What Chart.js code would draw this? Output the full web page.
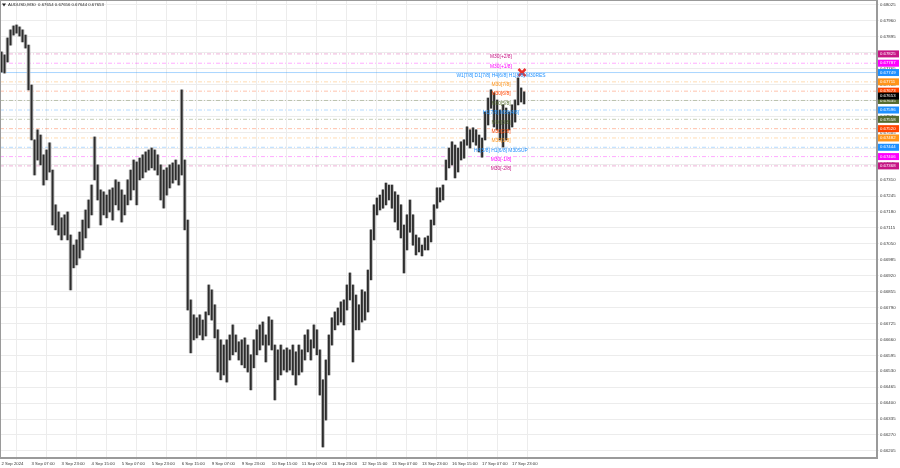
<!DOCTYPE html>
<html>
<head>
<meta charset="utf-8">
<title>AUDUSD,M30</title>
<script src="https://cdn.jsdelivr.net/npm/chart.js@4.4.1/dist/chart.umd.min.js"></script>
<style>
  html, body { margin: 0; padding: 0; background: #fff; }
  #wrap { width: 900px; height: 468px; }
</style>
</head>
<body>
<div id="wrap"><canvas id="chart" width="900" height="468"></canvas></div>
<script>
// AUDUSD M30, 2 Sep - 17 Sep 2024 (one bar here ~ 3 M30 bars of the terminal)
var symbolTitle = 'AUDUSD,M30  0.67654 0.67656 0.67644 0.67653';
var lastPrice = 0.67653;

var barHighs = [
  0.67833, 0.67821, 0.67890, 0.67923, 0.67939, 0.67943, 0.67935, 0.67923, 0.67902, 0.67861,
  0.67698, 0.67474, 0.67515, 0.67494, 0.67413, 0.67433, 0.67462, 0.67351, 0.67209, 0.67180,
  0.67156, 0.67168, 0.67180, 0.67086, 0.67045, 0.67066, 0.67098, 0.67147, 0.67188, 0.67229,
  0.67290, 0.67486, 0.67372, 0.67270, 0.67262, 0.67249, 0.67270, 0.67278, 0.67311, 0.67302,
  0.67270, 0.67249, 0.67311, 0.67351, 0.67392, 0.67384, 0.67400, 0.67413, 0.67425, 0.67433,
  0.67441, 0.67433, 0.67413, 0.67372, 0.67351, 0.67360, 0.67372, 0.67380, 0.67392, 0.67372,
  0.67678, 0.67392, 0.67147, 0.66821, 0.66760, 0.66748, 0.66760, 0.66739, 0.66772, 0.66882,
  0.66862, 0.66801, 0.66699, 0.66658, 0.66637, 0.66658, 0.66678, 0.66719, 0.66678, 0.66650,
  0.66658, 0.66666, 0.66637, 0.66597, 0.66658, 0.66699, 0.66719, 0.66731, 0.66678, 0.66752,
  0.66739, 0.66637, 0.66617, 0.66637, 0.66617, 0.66625, 0.66617, 0.66637, 0.66609, 0.66637,
  0.66617, 0.66678, 0.66699, 0.66658, 0.66719, 0.66699, 0.66617, 0.66495, 0.66576, 0.66678,
  0.66748, 0.66772, 0.66788, 0.66813, 0.66821, 0.66882, 0.66931, 0.66882, 0.66841, 0.66801,
  0.66862, 0.66854, 0.66943, 0.67107, 0.67209, 0.67237, 0.67249, 0.67270, 0.67298, 0.67290,
  0.67290, 0.67262, 0.67249, 0.67209, 0.67127, 0.67168, 0.67229, 0.67168, 0.67086, 0.67074,
  0.67045, 0.67074, 0.67082, 0.67147, 0.67209, 0.67278, 0.67278, 0.67290, 0.67392, 0.67441,
  0.67466, 0.67453, 0.67441, 0.67466, 0.67474, 0.67527, 0.67515, 0.67523, 0.67515, 0.67494,
  0.67482, 0.67588, 0.67645, 0.67678, 0.67666, 0.67637, 0.67596, 0.67617, 0.67604, 0.67588,
  0.67617, 0.67637, 0.67727, 0.67686, 0.67670
];
var barLows = [
  0.67751, 0.67747, 0.67792, 0.67861, 0.67902, 0.67910, 0.67898, 0.67874, 0.67849, 0.67678,
  0.67474, 0.67331, 0.67392, 0.67372, 0.67290, 0.67311, 0.67343, 0.67127, 0.67107, 0.67086,
  0.67066, 0.67086, 0.67066, 0.66862, 0.66952, 0.66964, 0.66992, 0.67025, 0.67074, 0.67115,
  0.67168, 0.67311, 0.67229, 0.67127, 0.67168, 0.67156, 0.67180, 0.67147, 0.67209, 0.67188,
  0.67139, 0.67168, 0.67209, 0.67229, 0.67270, 0.67209, 0.67311, 0.67319, 0.67343, 0.67351,
  0.67360, 0.67351, 0.67331, 0.67229, 0.67196, 0.67249, 0.67278, 0.67298, 0.67311, 0.67290,
  0.67331, 0.67107, 0.66780, 0.66605, 0.66658, 0.66666, 0.66678, 0.66658, 0.66674, 0.66760,
  0.66739, 0.66666, 0.66527, 0.66495, 0.66515, 0.66486, 0.66576, 0.66597, 0.66609, 0.66576,
  0.66556, 0.66544, 0.66527, 0.66454, 0.66544, 0.66597, 0.66617, 0.66637, 0.66568, 0.66637,
  0.66617, 0.66413, 0.66495, 0.66515, 0.66535, 0.66527, 0.66535, 0.66515, 0.66474, 0.66515,
  0.66527, 0.66576, 0.66609, 0.66576, 0.66625, 0.66597, 0.66433, 0.66221, 0.66331, 0.66515,
  0.66637, 0.66699, 0.66719, 0.66731, 0.66719, 0.66780, 0.66821, 0.66568, 0.66699, 0.66699,
  0.66731, 0.66739, 0.66772, 0.66903, 0.67066, 0.67168, 0.67188, 0.67196, 0.67209, 0.67229,
  0.67196, 0.67139, 0.67107, 0.67074, 0.66931, 0.67025, 0.67098, 0.67045, 0.67005, 0.67017,
  0.67001, 0.67025, 0.67025, 0.67058, 0.67127, 0.67196, 0.67221, 0.67229, 0.67311, 0.67360,
  0.67372, 0.67319, 0.67343, 0.67392, 0.67400, 0.67453, 0.67441, 0.67466, 0.67453, 0.67425,
  0.67404, 0.67474, 0.67535, 0.67604, 0.67527, 0.67515, 0.67474, 0.67445, 0.67474, 0.67515,
  0.67527, 0.67547, 0.67617, 0.67629, 0.67621
];

var timeTickIdx = [0, 10, 20, 30, 40, 50, 60, 70, 80, 90, 100, 110, 120, 130, 140, 150, 160, 170];
var timeTickLabels = ['2 Sep 2024', '3 Sep 07:00', '3 Sep 23:00', '4 Sep 15:00', '5 Sep 07:00', '5 Sep 23:00',
  '6 Sep 15:00', '9 Sep 07:00', '9 Sep 23:00', '10 Sep 15:00', '11 Sep 07:00', '11 Sep 23:00',
  '12 Sep 15:00', '13 Sep 07:00', '13 Sep 23:00', '16 Sep 15:00', '17 Sep 07:00', '17 Sep 23:00'];

var priceTicks = [0.68025, 0.67960, 0.67895, 0.67830, 0.67765, 0.67700, 0.67635, 0.67570, 0.67505, 0.67440,
  0.67375, 0.67310, 0.67245, 0.67180, 0.67115, 0.67050, 0.66985, 0.66920, 0.66855, 0.66790,
  0.66725, 0.66660, 0.66595, 0.66530, 0.66465, 0.66400, 0.66335, 0.66270, 0.66205];

var levelNames = ['M30[+2/8]', 'M30[+1/8]', 'W1[7/8] D1[7/8] H4[6/8] H1[8/8] M30RES', 'M30[7/8]', 'M30[6/8]',
  'M30[5/8]', 'H1[7/8] M30[4/8]', 'M30[3/8]', 'M30[2/8]', 'M30[1/8]', 'H4[5/8] H1[6/8] M30SUP',
  'M30[-1/8]', 'M30[-2/8]'];
var levelValues = [0.67825, 0.67787, 0.67749, 0.67711, 0.67673, 0.67635, 0.67596, 0.67558, 0.67520, 0.67482,
  0.67444, 0.67406, 0.67368];
var levelColors = ['#c71585', '#ff00ff', '#1e90ff', '#ff9419', '#ff4500', '#556b2f', '#1e90ff', '#556b2f',
  '#ff4500', '#ff9419', '#1e90ff', '#ff00ff', '#c71585'];
var levelSolid = [false, false, true, false, false, false, false, false, false, false, false, false, false];

var markX = [173.3];
var markY = [0.67749];

var font = "'Liberation Sans', Arial, sans-serif";
var slots = 292;

function fade(hex, a) {
  var n = parseInt(hex.slice(1), 16);
  return 'rgba(' + (n >> 16) + ',' + ((n >> 8) & 255) + ',' + (n & 255) + ',' + a + ')';
}

var lineSets = levelValues.map(function (v, i) {
  return {
    type: 'line',
    data: [{ x: -0.5, y: v }, { x: slots - 0.5, y: v }],
    borderColor: fade(levelColors[i], levelSolid[i] ? 0.38 : 0.33),
    borderWidth: 1,
    borderDash: levelSolid[i] ? [] : [4, 2, 1, 2],
    pointRadius: 0,
    order: 4
  };
});

var candles = barHighs.map(function (h, i) { return { x: i, y: [barLows[i], h] }; });

var overlay = {
  id: 'overlay',
  afterDatasetsDraw: function (chart) {
    var c = chart.ctx, xs = chart.scales.x, ys = chart.scales.y;
    c.save();
    c.font = '4.9px ' + font;
    c.textAlign = 'center';
    c.textBaseline = 'top';
    var lx = xs.getPixelForValue(166.3);
    levelNames.forEach(function (t, i) {
      c.fillStyle = levelColors[i];
      c.fillText(t, lx, ys.getPixelForValue(levelValues[i]) + 0.5);
    });
    c.restore();
  },
  afterDraw: function (chart) {
    var c = chart.ctx, a = chart.chartArea, ys = chart.scales.y;
    c.save();
    c.strokeStyle = '#9a9a9a';
    c.lineWidth = 1;
    c.strokeRect(a.left + 0.5, a.top + 0.5, a.right - a.left - 1, a.bottom - a.top - 1);
    // price boxes on the axis
    c.font = '4.3px ' + font;
    c.textAlign = 'left';
    c.textBaseline = 'middle';
    var boxes = levelValues.map(function (v, i) { return [v, levelColors[i]]; });
    boxes.push([lastPrice, '#000000']);
    boxes.forEach(function (b) {
      var y = ys.getPixelForValue(b[0]);
      c.fillStyle = b[1];
      c.fillRect(a.right + 1, y - 3.5, 21, 7);
      c.fillStyle = '#ffffff';
      c.fillText(b[0].toFixed(5), a.right + 3, y);
    });
    // title
    c.fillStyle = '#222';
    c.beginPath();
    c.moveTo(2, 3.5); c.lineTo(6, 3.5); c.lineTo(4, 6.5); c.closePath();
    c.fill();
    c.fillText(symbolTitle, 8, 5);
    c.restore();
  }
};

new Chart(document.getElementById('chart'), {
  type: 'bar',
  data: {
    datasets: lineSets.concat([
      {
        type: 'bar',
        data: candles,
        backgroundColor: '#b4b4b4',
        barThickness: 3,
        grouped: false,
        order: 3
      },
      {
        type: 'bar',
        data: candles,
        backgroundColor: '#2c2c2c',
        barThickness: 1.2,
        grouped: false,
        order: 2
      },
      {
        type: 'scatter',
        data: markX.map(function (x, i) { return { x: x, y: markY[i] }; }),
        pointStyle: 'crossRot',
        pointRadius: 5,
        borderColor: '#e8312b',
        borderWidth: 2.5,
        clip: false,
        order: 1
      }
    ])
  },
  options: {
    responsive: false,
    animation: false,
    devicePixelRatio: 1,
    layout: { padding: 0, autoPadding: false },
    plugins: { legend: { display: false }, tooltip: { enabled: false } },
    scales: {
      x: {
        type: 'linear',
        min: -0.5,
        max: slots - 0.5,
        offset: false,
        grid: { color: '#ececec', tickLength: 2 },
        border: { color: '#9a9a9a' },
        ticks: {
          autoSkip: false,
          maxRotation: 0,
          align: 'start',
          padding: 1,
          color: '#333',
          font: { family: font, size: 4.3 },
          callback: function (v) {
            var k = timeTickIdx.indexOf(v);
            return k < 0 ? '' : timeTickLabels[k];
          }
        },
        afterBuildTicks: function (s) { s.ticks = timeTickIdx.map(function (v) { return { value: v }; }); },
        afterFit: function (s) { s.height = 10; s.paddingLeft = 0; s.paddingRight = 0; }
      },
      y: {
        type: 'linear',
        position: 'right',
        min: 0.66176,
        max: 0.68045,
        grid: { color: '#ececec', tickLength: 2 },
        border: { color: '#9a9a9a' },
        ticks: {
          padding: 1,
          color: '#333',
          font: { family: font, size: 4.3 },
          callback: function (v) { return v.toFixed(5); }
        },
        afterBuildTicks: function (s) { s.ticks = priceTicks.map(function (v) { return { value: v }; }); },
        afterFit: function (s) { s.width = 23; s.paddingTop = 0; s.paddingBottom = 0; }
      }
    }
  },
  plugins: [overlay]
});
</script>
</body>
</html>
